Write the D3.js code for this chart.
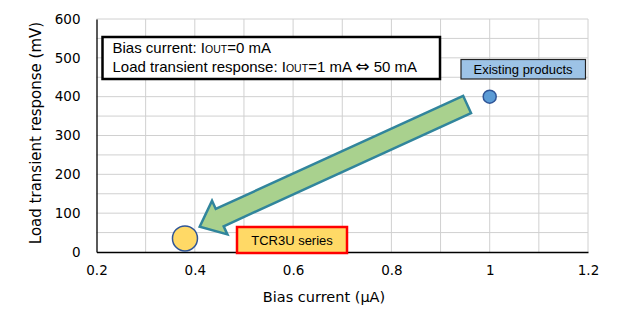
<!DOCTYPE html>
<meta charset="utf-8">
<head>
  <title>Bias current vs load transient response</title>
  <style>
    body { margin: 0; background: #fff; }
    svg text { fill: #000; }
    .tick { font-family: "DejaVu Sans", Verdana, sans-serif; font-size: 13.5px; }
    .note { font-family: "Liberation Sans", Arial, sans-serif; }
  </style>
  <script src="https://d3js.org/d3.v7.min.js"></script>
</head>
<body>
<svg id="chart" width="626" height="324"></svg>
<script>
// data
var products = ['Existing products', 'TCR3U series'];
var biasCurrent = [1.0, 0.38];       // uA
var transientResp = [400, 35];       // mV
var xTicks = [0.2, 0.4, 0.6, 0.8, 1.0, 1.2];
var yTicks = [0, 100, 200, 300, 400, 500, 600];
var arrowFrom = [0.954, 380];
var arrowTo = [0.41, 65];

var svg = d3.select('#chart');
var x = d3.scaleLinear().domain([0.2, 1.2]).range([96.5, 588]);
var y = d3.scaleLinear().domain([0, 600]).range([252, 19]);

// grid
var grid = svg.append('g');
grid.selectAll('line.v')
  .data(d3.range(3, 13).map(function(i) { return i / 10; }))
  .enter().append('line')
  .attr('x1', function(d) { return x(d); }).attr('x2', function(d) { return x(d); })
  .attr('y1', y(0)).attr('y2', y(600))
  .attr('stroke', '#d0d0d0').attr('stroke-width', 1);
grid.selectAll('line.h')
  .data(d3.range(1, 13).map(function(i) { return i * 50; }))
  .enter().append('line')
  .attr('y1', function(d) { return y(d); }).attr('y2', function(d) { return y(d); })
  .attr('x1', x(0.2)).attr('x2', x(1.2))
  .attr('stroke', '#d0d0d0').attr('stroke-width', 1);

// axes
var xAxis = svg.append('g').attr('transform', 'translate(0,' + y(0) + ')')
  .call(d3.axisBottom(x).tickValues(xTicks).tickSize(0).tickPadding(13)
    .tickFormat(function(d) { return d3.format('')(+d.toFixed(1)); }));
xAxis.select('.domain').attr('stroke', '#000').attr('stroke-width', 1.3);

var yAxis = svg.append('g').attr('transform', 'translate(' + x(0.2) + ',0)')
  .call(d3.axisLeft(y).tickValues(yTicks).tickSize(0).tickPadding(16));
yAxis.select('.domain').attr('stroke', '#000').attr('stroke-width', 1.3);
svg.selectAll('.tick text').style('font-family', '"DejaVu Sans", Verdana, sans-serif').style('font-size', '13.5px');

svg.append('text').attr('class', 'tick')
  .attr('x', 324).attr('y', 302).attr('text-anchor', 'middle')
  .style('font-size', '14.5px')
  .text('Bias current (\u03bcA)');
svg.append('text').attr('class', 'tick')
  .attr('transform', 'translate(41,133) rotate(-90)').attr('text-anchor', 'middle')
  .style('font-size', '15px')
  .text('Load transient response (mV)');

// arrow (in data units, mapped through scales)
var p0 = [x(arrowFrom[0]), y(arrowFrom[1])];
var p1 = [x(arrowTo[0]), y(arrowTo[1])];
var dx = p1[0] - p0[0], dy = p1[1] - p0[1];
var len = Math.sqrt(dx * dx + dy * dy);
var ux = dx / len, uy = dy / len, nx = -uy, ny = ux;
var shaftW = 9.5, headW = 18.5, headL = 22;
function pt(a, b) { return [p0[0] + ux * a + nx * b, p0[1] + uy * a + ny * b]; }
var arrowPts = [pt(0, shaftW), pt(len - headL, shaftW), pt(len - headL, headW), pt(len, 0),
  pt(len - headL, -headW), pt(len - headL, -shaftW), pt(0, -shaftW)];
svg.append('path')
  .attr('d', d3.line()(arrowPts) + 'Z')
  .attr('fill', '#a9d18e').attr('stroke', '#31859c').attr('stroke-width', 2.5)
  .attr('stroke-linejoin', 'miter');

// points
var colors = ['#5b9bd5', '#ffd966'];
var radius = [6.5, 12.5];
svg.selectAll('circle.pt')
  .data(products)
  .enter().append('circle')
  .attr('cx', function(d, i) { return x(biasCurrent[i]); })
  .attr('cy', function(d, i) { return y(transientResp[i]); })
  .attr('r', function(d, i) { return radius[i]; })
  .attr('fill', function(d, i) { return colors[i]; })
  .attr('stroke', '#2f5597').attr('stroke-width', 1.5);

// labels
var lab1 = svg.append('g');
lab1.append('rect').attr('x', 461).attr('y', 59.5).attr('width', 124.5).attr('height', 19.5)
  .attr('fill', '#9dc3e6').attr('stroke', '#222').attr('stroke-width', 1.2);
lab1.append('text').attr('class', 'note').attr('x', 523).attr('y', 73.5)
  .attr('text-anchor', 'middle').style('font-size', '13px').text(products[0]);

var lab2 = svg.append('g');
lab2.append('rect').attr('x', 237).attr('y', 227).attr('width', 110).attr('height', 26)
  .attr('fill', '#ffd966').attr('stroke', '#ff0000').attr('stroke-width', 2.5);
lab2.append('text').attr('class', 'note').attr('x', 292).attr('y', 245)
  .attr('text-anchor', 'middle').style('font-size', '13px').text(products[1]);

// condition box
var box = svg.append('g');
box.append('rect').attr('x', 102.5).attr('y', 37).attr('width', 337.5).attr('height', 42)
  .attr('fill', '#fff').attr('stroke', '#000').attr('stroke-width', 2.5);
var t1 = box.append('text').attr('class', 'note').attr('x', 112.5).attr('y', 52.5)
  .style('font-size', '15px');
t1.append('tspan').text('Bias current: I');
t1.append('tspan').style('font-size', '10.5px').text('OUT');
t1.append('tspan').text('=0 mA');
var t2 = box.append('text').attr('class', 'note').attr('x', 112.5).attr('y', 71.5)
  .style('font-size', '15px');
t2.append('tspan').text('Load transient response: I');
t2.append('tspan').style('font-size', '10.5px').text('OUT');
t2.append('tspan').text('=1 mA ');
t2.append('tspan').style('font-family', '"DejaVu Sans", sans-serif').style('font-size', '17px').text('\u21d4');
t2.append('tspan').text(' 50 mA');
</script>
</body>
</html>
